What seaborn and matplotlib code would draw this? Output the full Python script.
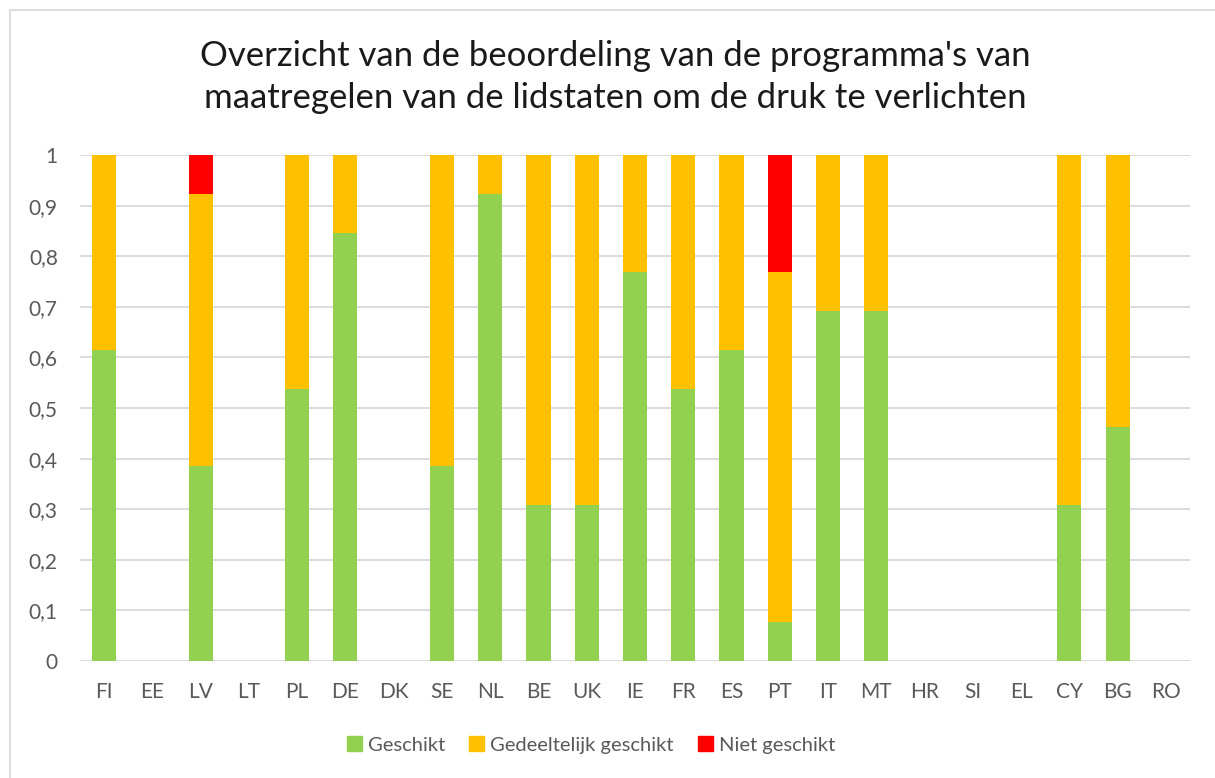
import matplotlib
matplotlib.use("Agg")
import matplotlib.pyplot as plt
import matplotlib.patches as mpatches
from matplotlib.ticker import FuncFormatter, MultipleLocator
from matplotlib.lines import Line2D
import pandas as pd
import seaborn as sns

landen = ['FI', 'EE', 'LV', 'LT', 'PL', 'DE', 'DK', 'SE', 'NL', 'BE', 'UK', 'IE',
          'FR', 'ES', 'PT', 'IT', 'MT', 'HR', 'SI', 'EL', 'CY', 'BG', 'RO']
geschikt = [0.615, 0, 0.385, 0, 0.538, 0.846, 0, 0.385, 0.923, 0.308, 0.308, 0.769,
            0.538, 0.615, 0.077, 0.692, 0.692, 0, 0, 0, 0.308, 0.462, 0]
gedeeltelijk = [0.385, 0, 0.538, 0, 0.462, 0.154, 0, 0.615, 0.077, 0.692, 0.692, 0.231,
                0.462, 0.385, 0.692, 0.308, 0.308, 0, 0, 0, 0.692, 0.538, 0]
niet = [0, 0, 0.077, 0, 0, 0, 0, 0, 0, 0, 0, 0,
        0, 0, 0.231, 0, 0, 0, 0, 0, 0, 0, 0]

reeksen = ['Geschikt', 'Gedeeltelijk geschikt', 'Niet geschikt']
kleuren = ['#92D050', '#FFC000', '#FF0000']

df = pd.DataFrame({'land': landen, 'g': geschikt, 'p': gedeeltelijk, 'n': niet})
df['gp'] = df['g'] + df['p']
df['tot'] = df['gp'] + df['n']

sns.set_style('white')
plt.rcParams['font.family'] = ['Lato', 'DejaVu Sans']

fig = plt.figure(figsize=(12.15, 7.78), dpi=100)
ax = fig.add_axes([80 / 1215, 1 - 661 / 778, 1110 / 1215, 506 / 778])

# gestapeld: eerst totaal, dan de lagere lagen erover
for kol, kl, z in [('tot', kleuren[2], 3), ('gp', kleuren[1], 4), ('g', kleuren[0], 5)]:
    sns.barplot(data=df, x='land', y=kol, color=kl, width=0.5, saturation=1,
                linewidth=0, edgecolor='none', ax=ax, zorder=z)

ax.set_ylim(0, 1)
ax.set_xlim(-0.5, len(landen) - 0.5)
ax.yaxis.set_major_locator(MultipleLocator(0.1))
ax.yaxis.set_major_formatter(FuncFormatter(lambda v, p: ('%g' % round(v, 1)).replace('.', ',')))
ax.grid(axis='y', color='#D9D9D9', linewidth=1.3, zorder=0)
ax.set_axisbelow(True)
for s in ax.spines.values():
    s.set_visible(False)
ax.set_xlabel('')
ax.set_ylabel('')
ax.tick_params(axis='both', length=0, labelsize=15, labelcolor='#595959')
ax.tick_params(axis='x', pad=15)
ax.tick_params(axis='y', pad=16)

fig.suptitle("Overzicht van de beoordeling van de programma's van\nmaatregelen van de lidstaten om de druk te verlichten",
             x=615 / 1215, y=1 - 40 / 778, fontsize=25, color='#1a1a1a', linespacing=1.4, va='top')

handles = [mpatches.Patch(color=c, label=r) for c, r in zip(kleuren, reeksen)]
leg = fig.legend(handles=handles, loc='center', bbox_to_anchor=(591 / 1215, 1 - 745 / 778), ncol=3,
                 frameon=False, fontsize=14.5, handlelength=0.75, handleheight=0.75,
                 handletextpad=0.3, columnspacing=1.2)
for t in leg.get_texts():
    t.set_color('#595959')

# kader van de grafiek
fig.add_artist(Line2D([10 / 1215, 1], [1 - 10 / 778, 1 - 10 / 778], color='#D9D9D9', lw=1.3))
fig.add_artist(Line2D([10 / 1215, 10 / 1215], [0, 1 - 10 / 778], color='#D9D9D9', lw=1.3))

fig.savefig('out.png', dpi=100)
